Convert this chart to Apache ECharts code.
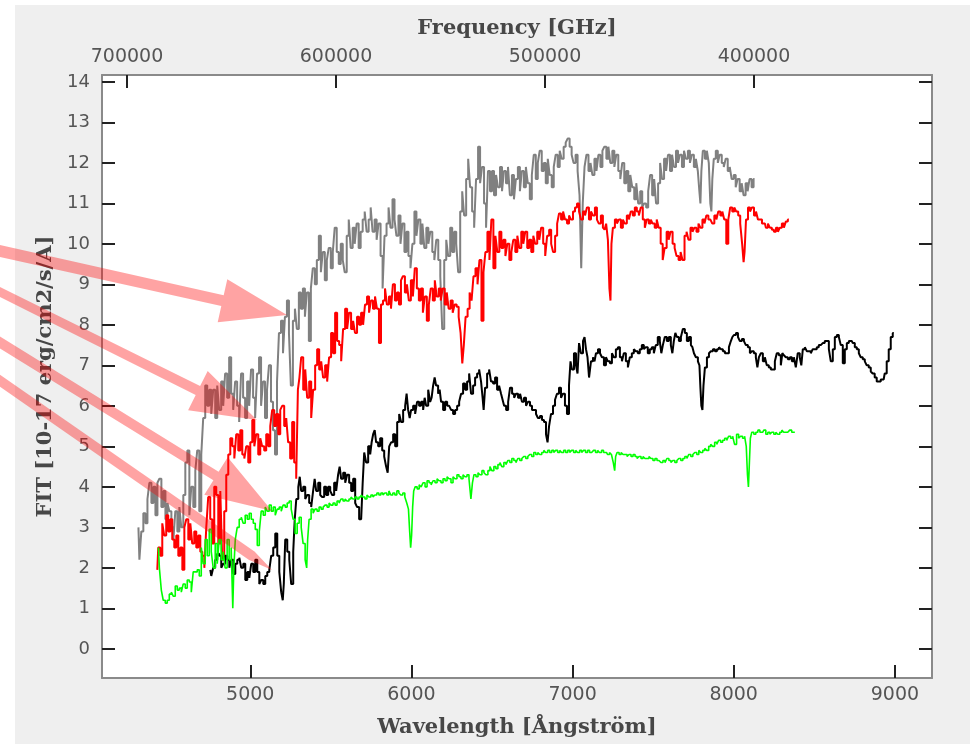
<!DOCTYPE html>
<html>
<head>
<meta charset="utf-8">
<script src="https://cdn.jsdelivr.net/npm/echarts@6/dist/echarts.min.js"></script>
<style>html,body{margin:0;padding:0;background:#fff}#c{width:972px;height:744px}</style>
</head>
<body>
<div id="c"></div>
<script>
// Wavelength [Å], flux [1e-17 erg/cm2/s/A]
const grayPoints = [[4306,3.0],[4318,2.2],[4330,2.9],[4343,3.35],[4356,3.1],[4368,3.7],[4380,4.1],[4393,3.6],[4405,4.0],[4418,3.3],[4430,4.1],[4442,4.2],[4455,3.5],[4467,3.9],[4480,3.2],[4492,3.6],[4504,3.4],[4517,3.0],[4529,2.7],[4541,3.4],[4554,2.9],[4566,3.5],[4578,3.0],[4591,3.8],[4603,4.6],[4616,4.9],[4628,3.3],[4640,4.0],[4653,3.5],[4665,4.4],[4677,4.9],[4690,3.4],[4702,4.8],[4714,5.7],[4727,6.5],[4739,6.0],[4752,6.4],[4764,5.8],[4776,6.4],[4789,5.7],[4801,6.5],[4813,5.9],[4826,6.6],[4838,6.0],[4850,6.8],[4863,6.2],[4875,7.2],[4888,6.3],[4900,5.9],[4912,6.6],[4925,6.0],[4937,5.6],[4949,6.8],[4962,6.2],[4974,5.7],[4987,6.6],[4999,6.0],[5011,6.9],[5024,6.2],[5036,5.7],[5048,6.8],[5061,7.2],[5073,6.0],[5085,6.6],[5098,5.7],[5110,6.4],[5122,7.0],[5135,6.1],[5147,5.4],[5160,4.8],[5172,6.6],[5184,7.8],[5197,8.1],[5209,7.3],[5221,8.2],[5234,8.6],[5246,7.8],[5258,6.5],[5271,8.1],[5283,8.4],[5295,7.9],[5308,8.8],[5320,8.4],[5333,8.9],[5345,8.2],[5357,8.8],[5370,7.6],[5382,8.9],[5394,9.4],[5407,9.0],[5419,9.6],[5432,10.2],[5444,9.3],[5456,9.8],[5469,9.1],[5481,9.6],[5493,9.9],[5506,9.4],[5518,9.8],[5530,10.4],[5543,9.8],[5555,9.5],[5568,10.0],[5580,9.6],[5592,9.3],[5605,10.2],[5617,10.6],[5629,9.9],[5642,10.4],[5654,10.0],[5666,10.5],[5679,9.9],[5691,10.3],[5704,10.6],[5716,10.8],[5728,10.3],[5741,10.6],[5753,10.9],[5765,10.3],[5778,10.6],[5790,10.1],[5802,10.5],[5815,9.7],[5827,8.9],[5839,10.2],[5852,10.5],[5864,10.9],[5876,10.4],[5889,11.1],[5901,10.6],[5913,10.2],[5926,10.7],[5938,10.0],[5950,10.5],[5963,9.8],[5975,10.3],[5988,9.7],[6000,9.4],[6012,10.0],[6025,10.8],[6037,10.2],[6049,10.6],[6062,10.0],[6074,10.5],[6086,9.9],[6099,10.4],[6111,10.0],[6123,10.3],[6136,9.8],[6148,9.6],[6160,10.1],[6173,9.6],[6185,9.2],[6197,7.9],[6210,9.6],[6222,10.1],[6234,9.7],[6247,10.4],[6259,9.8],[6272,10.3],[6284,10.0],[6296,9.3],[6309,10.8],[6321,11.3],[6333,10.7],[6346,11.6],[6358,12.1],[6370,11.4],[6383,10.8],[6395,10.4],[6407,11.6],[6420,12.4],[6432,11.5],[6444,11.9],[6457,11.0],[6469,10.4],[6481,11.8],[6494,11.3],[6506,11.8],[6519,11.2],[6531,11.7],[6543,11.4],[6556,11.9],[6568,11.3],[6580,11.8],[6593,11.5],[6605,11.9],[6617,11.2],[6630,11.7],[6642,11.1],[6654,11.6],[6667,11.9],[6679,11.3],[6691,11.8],[6704,11.4],[6716,11.9],[6728,11.5],[6741,11.1],[6753,11.7],[6765,12.2],[6778,11.6],[6790,12.0],[6802,12.3],[6815,11.8],[6827,12.0],[6840,11.5],[6852,12.1],[6864,11.7],[6877,11.4],[6889,11.9],[6901,12.2],[6914,11.9],[6926,12.3],[6938,12.1],[6951,12.4],[6963,12.5],[6975,12.6],[6988,12.4],[7000,12.2],[7012,12.0],[7025,12.2],[7037,11.8],[7049,11.2],[7058,9.4],[7068,11.0],[7080,11.9],[7092,12.2],[7105,11.8],[7117,12.0],[7129,11.7],[7142,12.1],[7154,11.8],[7166,12.2],[7179,11.9],[7191,12.3],[7203,12.4],[7216,12.1],[7228,12.4],[7240,12.0],[7253,12.3],[7265,11.9],[7277,12.2],[7290,11.8],[7302,11.6],[7314,12.0],[7327,11.5],[7339,11.8],[7352,11.3],[7364,11.7],[7376,11.4],[7389,11.1],[7401,11.5],[7413,11.0],[7426,11.3],[7438,10.9],[7450,11.0],[7463,10.9],[7475,11.3],[7487,11.7],[7500,11.2],[7512,11.6],[7524,11.0],[7537,11.5],[7549,12.0],[7561,11.6],[7574,12.1],[7586,11.8],[7598,12.2],[7611,11.8],[7623,12.2],[7635,11.9],[7648,12.3],[7660,12.0],[7672,12.2],[7685,11.9],[7697,12.3],[7709,12.1],[7722,12.3],[7734,12.0],[7746,12.2],[7759,11.9],[7771,12.1],[7783,11.8],[7790,11.3],[7796,11.0],[7802,11.8],[7814,12.3],[7827,12.1],[7839,12.3],[7851,12.0],[7858,11.0],[7864,10.8],[7870,11.6],[7882,12.1],[7895,12.3],[7907,12.0],[7919,12.2],[7932,12.0],[7944,11.9],[7956,12.1],[7969,11.8],[7981,11.9],[7993,11.6],[8006,11.7],[8018,11.4],[8030,11.6],[8043,11.3],[8055,11.5],[8067,11.2],[8080,11.5],[8092,11.3],[8104,11.6],[8117,11.4],[8129,11.6]];

const redPoints = [[4423,1.95],[4435,2.5],[4448,2.3],[4460,3.1],[4472,2.8],[4485,3.3],[4497,2.9],[4510,3.2],[4522,2.7],[4535,2.5],[4547,2.8],[4560,2.3],[4572,2.5],[4585,1.95],[4597,3.0],[4609,3.2],[4622,2.7],[4634,3.1],[4646,2.6],[4659,2.9],[4671,2.5],[4684,2.8],[4696,2.4],[4709,2.3],[4721,2.0],[4733,3.0],[4745,3.75],[4758,3.2],[4770,2.6],[4783,4.0],[4795,3.8],[4808,2.6],[4820,3.9],[4832,2.2],[4845,3.4],[4857,4.3],[4870,4.8],[4882,5.2],[4895,5.0],[4907,4.7],[4919,5.3],[4932,4.9],[4944,5.4],[4957,4.8],[4969,4.7],[4981,5.0],[4994,4.6],[5006,5.1],[5019,5.65],[5031,5.0],[5043,5.3],[5056,4.8],[5068,5.2],[5080,5.0],[5093,4.9],[5105,5.3],[5118,5.0],[5130,5.5],[5142,5.9],[5155,5.5],[5167,5.8],[5180,5.3],[5192,5.9],[5204,6.0],[5217,5.5],[5229,5.7],[5241,5.1],[5254,4.7],[5266,5.6],[5279,4.6],[5291,4.2],[5300,6.4],[5310,6.7],[5322,7.2],[5335,6.4],[5347,6.9],[5359,6.2],[5372,6.6],[5384,5.7],[5396,6.4],[5409,7.0],[5421,7.4],[5434,6.9],[5446,7.1],[5458,6.7],[5471,7.0],[5483,6.6],[5495,7.2],[5508,7.8],[5520,7.3],[5533,8.3],[5545,7.6],[5558,7.5],[5570,7.1],[5582,7.9],[5595,8.4],[5607,7.9],[5619,8.3],[5632,7.9],[5644,8.1],[5656,7.8],[5669,8.2],[5681,8.0],[5694,8.3],[5706,8.0],[5718,8.5],[5731,8.7],[5743,8.3],[5755,8.6],[5768,8.4],[5780,8.7],[5792,8.4],[5805,7.55],[5817,8.5],[5830,8.6],[5842,8.9],[5854,8.5],[5867,8.7],[5879,8.4],[5891,9.0],[5904,8.6],[5916,8.8],[5929,8.5],[5941,9.1],[5953,9.2],[5966,8.8],[5978,9.0],[5990,8.6],[6003,9.1],[6015,8.7],[6027,9.4],[6040,8.9],[6052,8.6],[6065,8.9],[6077,8.3],[6089,8.7],[6102,8.1],[6114,8.5],[6126,8.9],[6139,8.6],[6151,9.1],[6163,8.7],[6176,8.9],[6188,8.6],[6200,8.9],[6213,8.5],[6225,8.8],[6237,8.4],[6250,8.6],[6262,8.3],[6274,8.5],[6287,8.45],[6299,8.2],[6311,7.8],[6320,7.05],[6330,7.5],[6342,8.2],[6355,8.4],[6367,8.8],[6379,8.6],[6391,9.2],[6404,9.4],[6416,9.0],[6428,9.6],[6441,8.1],[6453,9.3],[6465,9.8],[6478,10.3],[6490,9.6],[6502,10.6],[6515,9.4],[6527,10.2],[6539,9.8],[6552,10.3],[6564,9.9],[6577,10.1],[6589,9.7],[6601,10.0],[6614,9.6],[6626,9.8],[6638,10.1],[6651,9.8],[6663,10.2],[6675,9.9],[6688,10.3],[6700,10.0],[6712,10.3],[6725,9.9],[6737,10.1],[6750,9.8],[6762,10.2],[6774,10.0],[6787,10.3],[6799,10.1],[6811,10.4],[6824,10.0],[6836,9.7],[6848,10.2],[6861,10.35],[6873,10.0],[6885,9.8],[6898,10.2],[6910,10.5],[6922,10.75],[6935,10.6],[6947,10.8],[6959,10.6],[6972,10.5],[6984,10.7],[6996,10.6],[7009,10.8],[7021,10.9],[7034,11.0],[7046,10.8],[7058,10.6],[7071,10.8],[7083,10.7],[7095,10.9],[7108,10.6],[7120,10.8],[7132,10.7],[7145,10.9],[7157,10.6],[7169,10.5],[7182,10.7],[7194,10.4],[7203,10.35],[7213,10.5],[7225,10.1],[7232,8.9],[7238,8.6],[7244,10.0],[7256,10.4],[7269,10.6],[7281,10.5],[7293,10.6],[7306,10.4],[7318,10.6],[7330,10.5],[7343,10.7],[7355,10.6],[7367,10.8],[7380,10.7],[7392,10.9],[7405,10.8],[7417,10.7],[7429,10.9],[7442,10.6],[7454,10.4],[7466,10.6],[7479,10.5],[7491,10.6],[7503,10.5],[7516,10.4],[7528,10.6],[7540,10.4],[7553,10.0],[7565,9.6],[7577,9.9],[7590,10.3],[7602,10.1],[7614,10.3],[7627,10.0],[7639,9.9],[7651,9.7],[7664,9.6],[7676,9.8],[7688,9.6],[7701,10.2],[7713,10.3],[7725,10.1],[7738,10.4],[7750,10.3],[7762,10.4],[7775,10.3],[7787,10.5],[7799,10.4],[7812,10.6],[7824,10.5],[7836,10.7],[7849,10.6],[7861,10.6],[7873,10.5],[7886,10.7],[7898,10.6],[7910,10.8],[7923,10.7],[7935,10.8],[7947,10.6],[7960,10.0],[7972,10.6],[7984,10.9],[7997,10.8],[8009,10.9],[8021,10.8],[8034,10.7],[8046,10.5],[8058,10.0],[8064,9.55],[8070,9.8],[8082,10.6],[8095,10.9],[8107,10.8],[8119,10.9],[8132,10.7],[8144,10.8],[8156,10.6],[8169,10.6],[8181,10.5],[8193,10.5],[8206,10.4],[8218,10.5],[8230,10.4],[8243,10.35],[8255,10.3],[8268,10.4],[8280,10.3],[8292,10.4],[8305,10.5],[8317,10.4],[8329,10.55],[8342,10.6]];

const blackPoints = [[4752,1.95],[4764,1.8],[4776,2.0],[4789,2.2],[4801,2.35],[4814,2.3],[4826,2.0],[4838,2.1],[4851,2.3],[4864,2.2],[4876,2.0],[4888,2.2],[4901,1.85],[4913,2.1],[4926,2.2],[4938,2.25],[4950,2.0],[4963,2.1],[4975,1.7],[4988,1.9],[5000,1.75],[5012,2.1],[5025,1.9],[5037,2.2],[5050,1.9],[5062,1.6],[5074,1.7],[5087,1.6],[5099,1.8],[5112,1.9],[5124,1.95],[5136,2.3],[5149,2.5],[5161,2.85],[5174,2.3],[5186,1.9],[5198,1.4],[5205,1.2],[5211,1.6],[5223,2.7],[5236,2.4],[5248,2.2],[5260,1.6],[5273,2.4],[5279,3.2],[5292,3.7],[5304,4.0],[5310,4.25],[5322,3.9],[5335,4.0],[5347,3.7],[5359,3.8],[5372,3.6],[5384,3.5],[5396,3.9],[5403,4.2],[5415,3.9],[5428,4.1],[5440,3.8],[5452,3.75],[5465,4.0],[5477,3.8],[5490,4.0],[5502,3.9],[5514,3.8],[5527,4.1],[5539,3.9],[5551,4.3],[5558,4.5],[5570,4.2],[5583,4.35],[5595,4.1],[5607,4.3],[5620,4.1],[5632,3.9],[5645,4.2],[5657,3.6],[5669,3.5],[5682,3.2],[5694,3.2],[5701,4.1],[5713,4.85],[5725,4.6],[5738,5.0],[5750,4.8],[5756,5.1],[5769,5.3],[5775,5.4],[5787,5.1],[5800,5.0],[5812,5.2],[5825,4.9],[5837,4.75],[5849,4.5],[5856,4.35],[5868,5.0],[5880,5.1],[5893,5.3],[5905,5.0],[5918,5.6],[5930,5.8],[5942,5.6],[5955,5.9],[5967,6.0],[5973,6.3],[5986,5.9],[5992,5.7],[6004,5.9],[6017,6.0],[6029,5.8],[6041,6.1],[6054,6.0],[6066,6.1],[6079,5.9],[6085,6.2],[6098,6.0],[6110,6.4],[6122,6.1],[6128,6.2],[6141,6.5],[6147,6.7],[6159,6.5],[6172,6.3],[6178,6.4],[6190,6.1],[6203,5.9],[6215,6.1],[6228,6.0],[6240,6.0],[6252,5.9],[6265,5.8],[6277,5.9],[6290,6.0],[6302,6.1],[6314,6.3],[6327,6.55],[6339,6.4],[6352,6.6],[6364,6.8],[6376,6.3],[6389,6.5],[6401,6.7],[6414,6.8],[6426,6.9],[6438,6.6],[6445,6.2],[6451,5.9],[6463,6.45],[6476,6.8],[6488,6.9],[6500,6.6],[6513,6.55],[6525,6.7],[6538,6.4],[6550,6.5],[6562,6.3],[6569,6.15],[6581,6.0],[6594,5.9],[6606,6.1],[6618,6.45],[6631,6.3],[6643,6.2],[6655,6.3],[6668,6.2],[6680,6.3],[6692,6.1],[6705,6.2],[6717,6.0],[6729,6.1],[6742,6.0],[6754,5.9],[6767,5.9],[6779,5.8],[6791,5.7],[6804,5.75],[6816,5.65],[6829,5.6],[6841,5.3],[6848,5.1],[6860,5.5],[6872,5.8],[6885,6.0],[6897,6.15],[6909,6.3],[6922,6.45],[6934,6.2],[6946,6.3],[6959,6.0],[6971,5.8],[6984,6.5],[6990,7.1],[7002,6.9],[7015,7.3],[7027,7.0],[7034,6.8],[7046,7.55],[7058,7.3],[7071,7.6],[7077,7.7],[7089,7.4],[7096,7.2],[7108,6.7],[7120,7.1],[7133,7.2],[7139,7.1],[7151,7.3],[7164,7.4],[7176,7.3],[7188,7.2],[7201,7.0],[7213,7.2],[7225,7.1],[7238,7.05],[7250,7.3],[7262,7.2],[7275,7.4],[7287,7.45],[7300,7.2],[7312,7.1],[7324,7.3],[7337,7.1],[7349,6.95],[7361,7.2],[7374,7.3],[7386,7.4],[7398,7.35],[7411,7.3],[7423,7.4],[7436,7.5],[7448,7.4],[7460,7.45],[7473,7.3],[7485,7.4],[7498,7.45],[7510,7.3],[7522,7.5],[7535,7.7],[7547,7.6],[7554,7.3],[7566,7.5],[7578,7.7],[7591,7.6],[7603,7.7],[7616,7.5],[7622,7.3],[7634,7.6],[7641,7.8],[7653,7.7],[7666,7.6],[7678,7.7],[7690,7.9],[7703,7.8],[7715,7.6],[7728,7.7],[7740,7.5],[7747,7.45],[7759,7.3],[7771,7.2],[7784,7.1],[7790,7.0],[7796,6.45],[7802,6.0],[7809,5.9],[7815,6.5],[7827,6.95],[7840,7.2],[7852,7.3],[7864,7.35],[7877,7.4],[7889,7.35],[7902,7.4],[7914,7.45],[7926,7.4],[7939,7.35],[7951,7.3],[7964,7.3],[7976,7.45],[7988,7.6],[7995,7.7],[8007,7.75],[8020,7.8],[8032,7.7],[8044,7.6],[8057,7.65],[8069,7.6],[8081,7.5],[8094,7.45],[8106,7.3],[8118,7.35],[8131,7.3],[8143,7.2],[8150,6.95],[8162,7.2],[8174,7.3],[8187,7.1],[8199,7.2],[8211,7.0],[8224,6.95],[8236,6.9],[8249,6.9],[8261,7.1],[8273,7.3],[8286,7.25],[8298,7.0],[8305,7.3],[8317,7.25],[8329,7.2],[8342,7.15],[8354,7.2],[8367,7.1],[8379,7.2],[8391,6.95],[8403,7.3],[8416,7.2],[8422,7.0],[8435,7.4],[8447,7.45],[8459,7.35],[8472,7.35],[8484,7.3],[8496,7.4],[8509,7.4],[8521,7.45],[8534,7.5],[8546,7.5],[8558,7.55],[8571,7.6],[8584,7.6],[8596,7.4],[8608,7.1],[8621,7.4],[8633,7.7],[8646,7.75],[8658,7.7],[8670,7.5],[8683,7.05],[8695,7.4],[8708,7.55],[8720,7.6],[8732,7.6],[8745,7.55],[8757,7.45],[8770,7.4],[8782,7.3],[8794,7.2],[8807,7.15],[8819,7.1],[8831,7.0],[8844,6.95],[8856,6.85],[8868,6.8],[8881,6.7],[8893,6.6],[8906,6.6],[8918,6.65],[8930,6.65],[8943,6.8],[8955,7.1],[8968,7.4],[8980,7.7],[8993,7.8]];

const greenPoints = [[4430,2.5],[4442,2.0],[4454,1.45],[4466,1.2],[4479,1.13],[4491,1.2],[4504,1.35],[4516,1.4],[4528,1.3],[4541,1.55],[4553,1.45],[4566,1.5],[4578,1.4],[4590,1.6],[4603,1.5],[4615,1.7],[4628,1.65],[4640,1.4],[4652,1.9],[4665,1.9],[4677,1.95],[4690,1.8],[4702,2.5],[4714,2.1],[4727,2.7],[4739,2.3],[4752,2.95],[4764,2.4],[4776,2.0],[4789,2.6],[4801,2.1],[4813,2.7],[4826,2.2],[4838,2.4],[4850,2.0],[4863,2.7],[4875,2.2],[4888,2.5],[4895,1.0],[4901,2.0],[4913,2.7],[4925,3.0],[4938,3.2],[4950,3.25],[4962,3.1],[4975,3.3],[4987,3.2],[5000,3.35],[5012,3.2],[5025,3.1],[5037,2.95],[5050,2.55],[5062,2.9],[5074,3.4],[5087,3.3],[5099,3.5],[5111,3.4],[5124,3.55],[5136,3.4],[5149,3.5],[5161,3.3],[5173,3.45],[5186,3.5],[5198,3.4],[5210,3.55],[5223,3.5],[5235,3.6],[5248,3.65],[5260,3.45],[5272,3.2],[5285,2.85],[5297,3.1],[5310,3.25],[5322,3.0],[5334,2.6],[5347,2.2],[5353,2.0],[5359,2.7],[5371,3.2],[5384,3.45],[5396,3.35],[5408,3.45],[5421,3.4],[5433,3.5],[5446,3.45],[5458,3.5],[5470,3.55],[5483,3.5],[5495,3.6],[5507,3.55],[5520,3.6],[5532,3.55],[5545,3.65],[5557,3.6],[5569,3.7],[5582,3.65],[5594,3.7],[5606,3.65],[5619,3.7],[5631,3.75],[5643,3.7],[5656,3.75],[5668,3.7],[5681,3.75],[5693,3.8],[5705,3.75],[5718,3.7],[5730,3.8],[5742,3.75],[5755,3.8],[5767,3.75],[5779,3.8],[5792,3.85],[5804,3.8],[5817,3.85],[5829,3.8],[5841,3.85],[5854,3.8],[5866,3.9],[5878,3.8],[5891,3.85],[5903,3.8],[5916,3.9],[5928,3.85],[5940,3.8],[5953,3.85],[5965,3.75],[5977,3.6],[5986,3.45],[5992,2.9],[5998,2.5],[6004,2.8],[6011,3.5],[6017,3.9],[6029,4.0],[6042,3.95],[6054,4.05],[6066,4.0],[6078,4.1],[6091,4.0],[6103,4.15],[6116,4.1],[6128,4.05],[6140,4.15],[6153,4.1],[6165,4.2],[6177,4.15],[6190,4.1],[6202,4.2],[6215,4.15],[6227,4.25],[6239,4.2],[6252,4.1],[6264,4.25],[6276,4.2],[6289,4.3],[6301,4.25],[6314,4.2],[6326,4.3],[6338,4.25],[6351,4.3],[6363,4.2],[6375,3.7],[6382,4.1],[6394,4.3],[6407,4.25],[6419,4.35],[6431,4.3],[6444,4.4],[6456,4.35],[6468,4.3],[6481,4.4],[6493,4.5],[6505,4.4],[6518,4.5],[6530,4.45],[6543,4.55],[6555,4.6],[6567,4.5],[6580,4.6],[6592,4.55],[6604,4.65],[6617,4.6],[6629,4.7],[6642,4.65],[6654,4.6],[6666,4.7],[6679,4.65],[6691,4.7],[6703,4.75],[6716,4.7],[6728,4.75],[6740,4.8],[6753,4.75],[6765,4.85],[6778,4.8],[6790,4.85],[6802,4.8],[6815,4.85],[6827,4.9],[6839,4.85],[6852,4.9],[6864,4.85],[6877,4.9],[6889,4.85],[6901,4.9],[6914,4.85],[6926,4.9],[6938,4.85],[6951,4.9],[6963,4.85],[6976,4.9],[6988,4.85],[7000,4.9],[7013,4.85],[7025,4.9],[7037,4.85],[7050,4.9],[7062,4.85],[7074,4.9],[7087,4.85],[7099,4.9],[7112,4.85],[7124,4.85],[7136,4.9],[7149,4.85],[7161,4.9],[7173,4.85],[7186,4.9],[7198,4.85],[7210,4.85],[7223,4.8],[7235,4.85],[7247,4.8],[7258,4.6],[7264,4.4],[7270,4.75],[7282,4.85],[7295,4.8],[7307,4.85],[7319,4.8],[7332,4.8],[7344,4.75],[7356,4.8],[7369,4.75],[7381,4.8],[7394,4.75],[7406,4.7],[7418,4.75],[7431,4.7],[7443,4.75],[7455,4.7],[7468,4.7],[7480,4.75],[7492,4.7],[7505,4.65],[7517,4.7],[7530,4.65],[7542,4.65],[7554,4.6],[7567,4.65],[7579,4.6],[7591,4.7],[7604,4.65],[7616,4.6],[7628,4.65],[7641,4.6],[7653,4.65],[7665,4.7],[7678,4.65],[7690,4.7],[7703,4.75],[7715,4.7],[7727,4.8],[7740,4.75],[7752,4.8],[7764,4.85],[7777,4.8],[7789,4.9],[7801,4.85],[7814,4.9],[7826,4.95],[7838,4.9],[7851,5.0],[7863,5.05],[7875,5.0],[7888,5.1],[7900,5.05],[7912,5.15],[7925,5.1],[7937,5.15],[7950,5.2],[7962,5.15],[7974,5.25],[7987,5.2],[7999,5.25],[8011,5.05],[8024,5.3],[8036,5.2],[8048,5.25],[8061,5.2],[8073,5.25],[8082,5.0],[8088,4.3],[8094,4.0],[8100,4.6],[8106,5.2],[8118,5.35],[8131,5.3],[8143,5.35],[8156,5.4],[8168,5.35],[8180,5.35],[8193,5.4],[8205,5.3],[8218,5.35],[8230,5.3],[8242,5.35],[8255,5.3],[8267,5.35],[8279,5.3],[8292,5.35],[8304,5.4],[8316,5.35],[8329,5.35],[8341,5.35],[8353,5.4],[8366,5.35],[8379,5.35]];

const wavelengthTicks = [5000, 6000, 7000, 8000, 9000];
const frequencyTicks = [400000, 500000, 600000, 700000];
const fluxTicks = [0,1,2,3,4,5,6,7,8,9,10,11,12,13,14];

const chart = echarts.init(document.getElementById('c'), null, {renderer: 'canvas'});

const plain = v => String(v);
const xLabelFont = {fontFamily: 'DejaVu Sans', fontSize: 19, color: '#555'};
const yLabelFont = {fontFamily: 'DejaVu Sans', fontSize: 18, color: '#555'};
const nameFont = {fontFamily: 'DejaVu Serif', fontSize: 21, fontWeight: 'bold', color: '#474747'};
const axisLineStyle = {color: '#8a8a8a', width: 2};
const tickStyle = {color: '#222', width: 2};
const arrowFill = 'rgba(255,0,0,0.36)';

function arrow(pts) {
  return {type: 'polygon', z: 100, silent: true, shape: {points: pts}, style: {fill: arrowFill}};
}

chart.setOption({
  backgroundColor: '#ffffff',
  animation: false,
  grid: {left: 102, right: 40, top: 75, bottom: 66, show: true, backgroundColor: '#ffffff', borderWidth: 0, containLabel: false, outerBoundsMode: 'none'},
  xAxis: [
    {
      type: 'value', position: 'bottom', min: 4080, max: 9230,
      name: 'Wavelength [Ångström]', nameLocation: 'middle', nameGap: 39, nameTextStyle: nameFont,
      axisLine: {show: true, onZero: false, lineStyle: axisLineStyle},
      axisTick: {show: true, inside: true, length: 13, lineStyle: tickStyle, customValues: wavelengthTicks},
      axisLabel: Object.assign({margin: 8, customValues: wavelengthTicks, formatter: plain}, xLabelFont),
      splitLine: {show: false}
    },
    {
      type: 'value', position: 'top', min: 314833, max: 711962, inverse: true,
      name: 'Frequency [GHz]', nameLocation: 'middle', nameGap: 36, nameTextStyle: nameFont,
      axisLine: {show: true, onZero: false, lineStyle: axisLineStyle},
      axisTick: {show: true, inside: true, length: 13, lineStyle: tickStyle, customValues: frequencyTicks},
      axisLabel: Object.assign({margin: 8, customValues: frequencyTicks, formatter: plain}, xLabelFont),
      splitLine: {show: false}
    }
  ],
  yAxis: [
    {
      type: 'value', position: 'left', min: -0.72, max: 14.17,
      name: 'FIT [10-17 erg/cm2/s/A]', nameLocation: 'middle', nameGap: 46, nameRotate: 90, nameTextStyle: nameFont,
      axisLine: {show: true, onZero: false, lineStyle: axisLineStyle},
      axisTick: {show: true, inside: true, length: 13, lineStyle: tickStyle, customValues: fluxTicks},
      axisLabel: Object.assign({margin: 12, customValues: fluxTicks, formatter: plain}, yLabelFont),
      splitLine: {show: false}
    },
    {
      type: 'value', position: 'right', min: -0.72, max: 14.17,
      axisLine: {show: true, onZero: false, lineStyle: axisLineStyle},
      axisTick: {show: true, inside: true, length: 13, lineStyle: tickStyle, customValues: fluxTicks},
      axisLabel: {show: false},
      splitLine: {show: false}
    }
  ],
  series: [
    {type: 'line', name: 'gray', data: grayPoints, step: 'middle', showSymbol: false, lineStyle: {color: '#808080', width: 2}, itemStyle: {color: '#808080'}, z: 2},
    {type: 'line', name: 'red', data: redPoints, step: 'middle', showSymbol: false, lineStyle: {color: '#ff0000', width: 2}, itemStyle: {color: '#ff0000'}, z: 3},
    {type: 'line', name: 'black', data: blackPoints, step: 'middle', showSymbol: false, lineStyle: {color: '#000000', width: 2}, itemStyle: {color: '#000000'}, z: 4},
    {type: 'line', name: 'green', data: greenPoints, step: 'middle', showSymbol: false, lineStyle: {color: '#00ff00', width: 1.6}, itemStyle: {color: '#00ff00'}, z: 5}
  ],
  graphic: [
    {type: 'rect', z: -100, silent: true, shape: {x: 15, y: 5, width: 955, height: 739}, style: {fill: '#efefef'}},
    arrow([[-4,244],[223.7,295.3],[227.3,279.2],[287,315],[217.7,322.2],[221.3,306.1],[-4,256]]),
    arrow([[-4,285],[200.1,386.1],[207.7,370.9],[257,420],[188.1,410.3],[195.7,395.1],[-4,295]]),
    arrow([[-4,334],[218.6,471.8],[227.7,457.3],[272,511],[204.3,494.7],[213.4,480.2],[-4,346]]),
    arrow([[-4,372],[254.5,551.5],[272,570],[248.7,559.7],[-4,384]])
  ]
});
</script>
</body>
</html>
